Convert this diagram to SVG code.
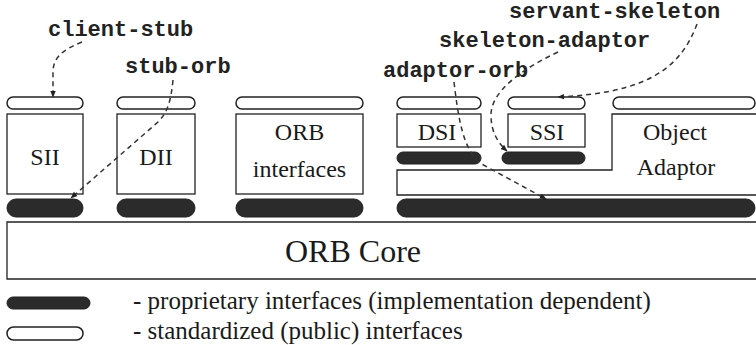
<svg xmlns="http://www.w3.org/2000/svg" width="756" height="345" viewBox="0 0 756 345">
<style>
.box{fill:#fff;stroke:#222;stroke-width:1.3}
.pill{fill:#fff;stroke:#222;stroke-width:1.5}
.bpill{fill:#2b2b2b;stroke:#222;stroke-width:1}
.t{font-family:"Liberation Serif","Times New Roman",serif;fill:#1a1a1a}
.lbl{font-family:"Liberation Mono","Courier New",monospace;font-weight:bold;font-size:22px;fill:#222}
.dash{fill:none;stroke:#333;stroke-width:1.5;stroke-dasharray:5 4}
</style>
<defs>
<marker id="ah" viewBox="0 0 10 10" refX="9" refY="5" markerWidth="7" markerHeight="7" markerUnits="userSpaceOnUse" orient="auto">
<path d="M0,1 L10,5 L0,9 z" fill="#222"/>
</marker>
</defs>
<rect width="756" height="345" fill="#fff"/>

<g id="SII">
<rect class="pill" x="7" y="97" width="76" height="12" rx="6"/>
<rect class="box" x="7" y="114" width="76" height="80"/>
<text class="t" x="45" y="165" font-size="24" text-anchor="middle">SII</text>
<rect class="bpill" x="7" y="199" width="76" height="18" rx="9"/>
</g>

<g id="DII">
<rect class="pill" x="117" y="97" width="78" height="12" rx="6"/>
<rect class="box" x="117" y="114" width="78" height="80"/>
<text class="t" x="156" y="165" font-size="24" text-anchor="middle">DII</text>
<rect class="bpill" x="117" y="199" width="78" height="18" rx="9"/>
</g>

<g id="ORBinterfaces">
<rect class="pill" x="236" y="97" width="127" height="12" rx="6"/>
<rect class="box" x="236" y="114" width="127" height="80"/>
<text class="t" x="299.5" y="140" font-size="24" text-anchor="middle">ORB</text>
<text class="t" x="299.5" y="177" font-size="24" text-anchor="middle">interfaces</text>
<rect class="bpill" x="236" y="199" width="127" height="18" rx="9"/>
</g>

<g id="DSI">
<rect class="pill" x="397" y="97" width="84" height="12" rx="6"/>
<rect class="box" x="397" y="114" width="84" height="33"/>
<text class="t" x="437" y="140" font-size="24" text-anchor="middle">DSI</text>
<rect class="bpill" x="397" y="152" width="84" height="12" rx="6"/>
</g>

<g id="SSI">
<rect class="pill" x="508" y="97" width="77" height="12" rx="6"/>
<rect class="box" x="508" y="114" width="77" height="33"/>
<text class="t" x="547" y="140" font-size="24" text-anchor="middle">SSI</text>
<rect class="bpill" x="502" y="152" width="83" height="12" rx="6"/>
</g>

<g id="ObjectAdaptor">
<rect class="pill" x="613" y="97" width="142" height="12" rx="6"/>
<path class="box" d="M762,114 L612,114 L612,170 L397,170 L397,195 L762,195"/>
<text class="t" x="675" y="140" font-size="24" text-anchor="middle">Object</text>
<text class="t" x="676" y="175" font-size="24" text-anchor="middle">Adaptor</text>
<rect class="bpill" x="397" y="199" width="358" height="18" rx="9"/>
</g>

<g id="ORBCore">
<path class="box" d="M762,222 L7,222 L7,279 L762,279"/>
<text class="t" x="353" y="262" font-size="32" text-anchor="middle">ORB Core</text>
</g>

<g id="legend">
<rect class="bpill" x="7" y="297" width="83" height="12" rx="6"/>
<text class="t" x="133" y="309" font-size="25">- proprietary interfaces (implementation dependent)</text>
<rect class="pill" x="7" y="327" width="76" height="13" rx="6.5"/>
<text class="t" x="133" y="339" font-size="25">- standardized (public) interfaces</text>
</g>

<g id="labels">
<text class="lbl" x="48" y="36">client-stub</text>
<text class="lbl" x="125" y="73">stub-orb</text>
<text class="lbl" x="509" y="18">servant-skeleton</text>
<text class="lbl" x="439" y="47">skeleton-adaptor</text>
<text class="lbl" x="383" y="77">adaptor-orb</text>
</g>

<g id="connectors">
<path class="dash" marker-end="url(#ah)" d="M82,42 C62,50 53,58 53,72 L53,97"/>
<path class="dash" marker-end="url(#ah)" d="M173,80 C171,100 168,112 158,122 L71,198"/>
<path class="dash" marker-end="url(#ah)" d="M454,82 C458,115 462,145 478,162 L546,199"/>
<path class="dash" marker-end="url(#ah)" d="M558,52 C520,70 491,92 491,115 C491,132 498,143 507,151"/>
<path class="dash" marker-end="url(#ah)" d="M697,24 C680,70 645,93 558,97"/>
</g>
</svg>
